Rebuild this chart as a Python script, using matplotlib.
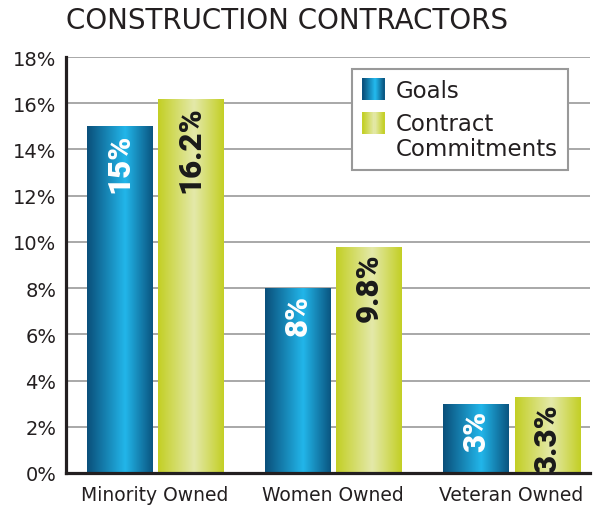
import numpy as np
import matplotlib
matplotlib.use("Agg")
import matplotlib.pyplot as plt
from matplotlib.colors import LinearSegmentedColormap
from matplotlib.patches import Rectangle
from matplotlib.legend_handler import HandlerBase

categories = ["Minority Owned", "Women Owned", "Veteran Owned"]
series_names = ["Goals", "Contract\nCommitments"]
goals = [15, 8, 3]
commitments = [16.2, 9.8, 3.3]
goal_labels = ["15%", "8%", "3%"]
commit_labels = ["16.2%", "9.8%", "3.3%"]
yticks = [0, 2, 4, 6, 8, 10, 12, 14, 16, 18]

plt.rcParams["font.family"] = ["DejaVu Sans"]
label_font = ["Roboto", "DejaVu Sans"]

blue_cmap = LinearSegmentedColormap.from_list(
    "blue", [(0, "#0a4f7a"), (0.58, "#22b6ea"), (1, "#0a5580")])
green_cmap = LinearSegmentedColormap.from_list(
    "green", [(0, "#c3cf24"), (0.55, "#e4e9aa"), (1, "#c3cf24")])
grad = np.linspace(0, 1, 256).reshape(1, -1)


def gradient_bar(ax, x, h, w, cmap):
    rect = Rectangle((x - w / 2, 0), w, h, facecolor="none", edgecolor="none", zorder=3)
    ax.add_patch(rect)
    im = ax.imshow(grad, cmap=cmap, extent=[x - w / 2, x + w / 2, 0, h],
                   aspect="auto", zorder=3, interpolation="bicubic")
    im.set_clip_path(rect)


class GradHandler(HandlerBase):
    def __init__(self, cmap, dy=0.0):
        super().__init__()
        self.cmap = cmap
        self.dy = dy

    def create_artists(self, legend, orig_handle, xdescent, ydescent,
                       width, height, fontsize, trans):
        n = 20
        side = fontsize * 0.95
        x0 = -xdescent + (width - side) / 2
        y0 = -ydescent + (height - side) / 2 + self.dy * fontsize
        arts = []
        for i in range(n):
            r = Rectangle((x0 + side * i / n, y0), side / n + 0.3, side,
                          facecolor=self.cmap((i + 0.5) / n), edgecolor="none",
                          transform=trans)
            arts.append(r)
        return arts


fig = plt.figure(figsize=(5.96, 5.06), dpi=100)
ax = fig.add_axes([66 / 596, 1 - 474 / 506, (590 - 66) / 596, (474 - 58) / 506])

x = np.arange(len(categories))
w = 0.365
off = 0.2
for i in range(len(categories)):
    gradient_bar(ax, x[i] - off, goals[i], w, blue_cmap)
    gradient_bar(ax, x[i] + off, commitments[i], w, green_cmap)
    ax.annotate(goal_labels[i], (x[i] - off, goals[i]), xytext=(0, -4.5),
                textcoords="offset points", rotation=90, ha="center", va="top",
                color="white", fontsize=22.5, fontweight=900, zorder=4,
                family=label_font)
    ax.annotate(commit_labels[i], (x[i] + off, commitments[i]), xytext=(0, -4.5),
                textcoords="offset points", rotation=90, ha="center", va="top",
                color="#1a1a1a", fontsize=22.5, fontweight=900, zorder=4,
                family=label_font)

ax.set_xlim(-0.5, 2.44)
ax.set_ylim(0, 18)
ax.set_xticks(x)
ax.set_xticklabels(categories, fontsize=13.5, color="#231f20")
ax.set_yticks(yticks)
ax.set_yticklabels([f"{t}%" for t in yticks], fontsize=14, color="#231f20")
ax.tick_params(axis="y", length=0, pad=7)
ax.tick_params(axis="x", length=0, pad=9)
ax.yaxis.grid(True, color="#999999", linewidth=1.2, zorder=1)
ax.set_axisbelow(True)
for s in ["top", "right"]:
    ax.spines[s].set_visible(False)
for s in ["left", "bottom"]:
    ax.spines[s].set_color("#231f20")
    ax.spines[s].set_linewidth(2.3)
    ax.spines[s].set_zorder(5)

h1 = Rectangle((0, 0), 1, 1)
h2 = Rectangle((0, 0), 1, 1)
leg = ax.legend([h1, h2], series_names, loc="upper right",
                bbox_to_anchor=(0.958, 0.971), fontsize=16.5, frameon=True,
                fancybox=False, edgecolor="#999999", framealpha=1,
                handler_map={h1: GradHandler(blue_cmap),
                             h2: GradHandler(green_cmap, dy=0.62)},
                handlelength=0.95, handletextpad=0.5, borderpad=0.45,
                labelspacing=0.42, borderaxespad=0)
leg.get_frame().set_linewidth(1.5)
for t in leg.get_texts():
    t.set_color("#231f20")
    t.set_linespacing(1.12)

fig.text(66 / 596, 1 - 21 / 506, "CONSTRUCTION CONTRACTORS", fontsize=20,
         color="#231f20", va="center", ha="left")

fig.savefig("out.png", dpi=100)
